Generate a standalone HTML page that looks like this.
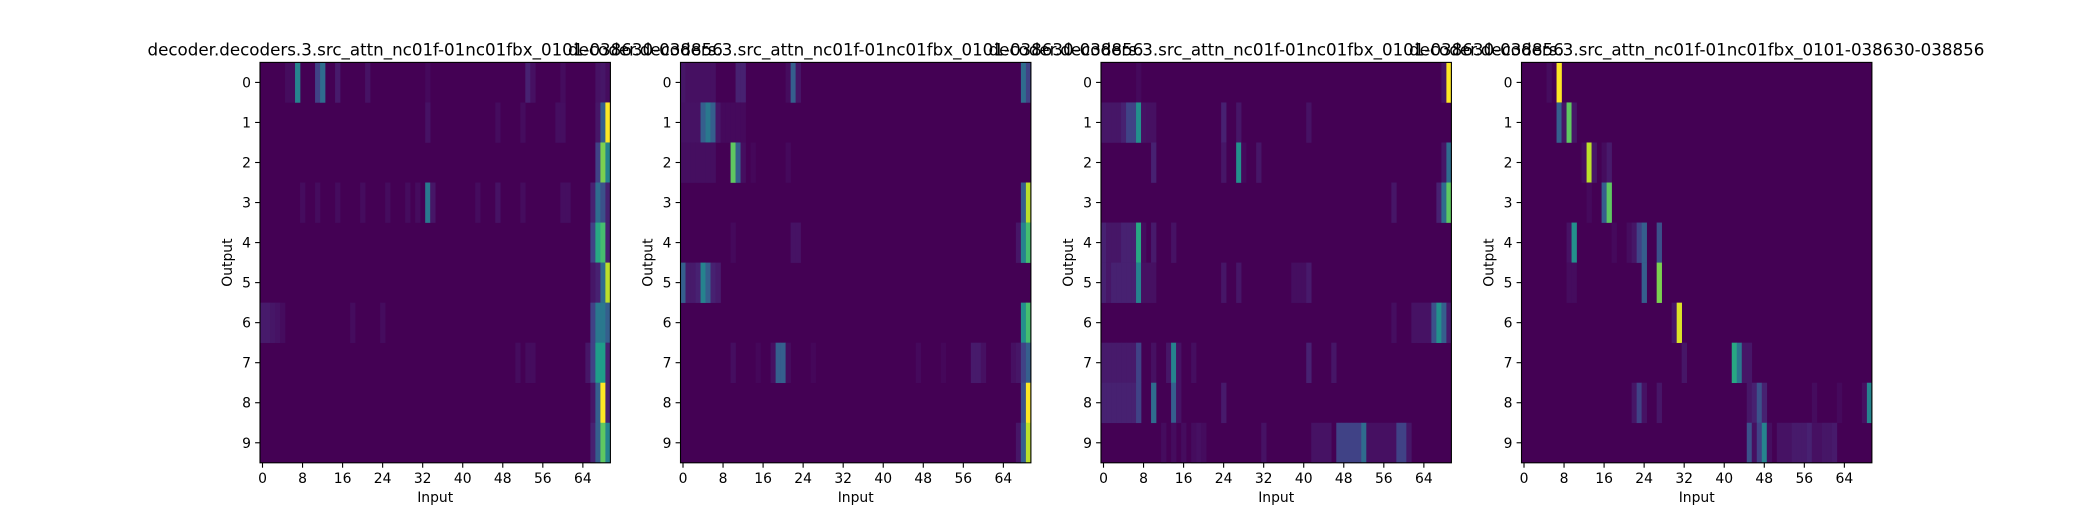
<!DOCTYPE html>
<html><head><meta charset="utf-8"><style>
html,body{margin:0;padding:0;background:#fff;}
svg text{font-family:"DejaVu Sans","Liberation Sans",sans-serif;fill:#000;}
</style></head><body>
<svg id="fig" width="2080" height="520" viewBox="0 0 2080 520" xmlns="http://www.w3.org/2000/svg"></svg>
<script>
// data: for each panel, 10 rows of sparse [column, weight] pairs; background 0
const nCols = 70;
const nRows = 10;
const xTicks = [0,8,16,24,32,40,48,56,64];
const yTicks = [0,1,2,3,4,5,6,7,8,9];
const titles = [
 "decoder.decoders.3.src_attn_nc01f-01nc01fbx_0101-038630-038856",
 "decoder.decoders.3.src_attn_nc01f-01nc01fbx_0101-038630-038856",
 "decoder.decoders.3.src_attn_nc01f-01nc01fbx_0101-038630-038856",
 "decoder.decoders.3.src_attn_nc01f-01nc01fbx_0101-038630-038856"
];
const panel1 = [
 [[5,0.05],[6,0.05],[7,0.45],[11,0.2],[12,0.35],[15,0.12],[21,0.08],[33,0.04],[53,0.15],[54,0.07],[60,0.05],[67,0.08],[68,0.1],[69,0.05]],
 [[33,0.08],[47,0.05],[52,0.05],[59,0.06],[60,0.06],[67,0.1],[68,0.3],[69,1.0]],
 [[67,0.2],[68,0.8],[69,0.45]],
 [[8,0.05],[11,0.05],[15,0.05],[20,0.05],[25,0.05],[29,0.05],[31,0.05],[33,0.4],[34,0.1],[43,0.05],[47,0.08],[52,0.05],[60,0.06],[61,0.06],[66,0.15],[67,0.35],[68,0.25],[69,0.15]],
 [[66,0.2],[67,0.6],[68,0.7],[69,0.15]],
 [[66,0.1],[67,0.15],[68,0.35],[69,0.9]],
 [[0,0.12],[1,0.12],[2,0.1],[3,0.08],[4,0.05],[18,0.05],[24,0.05],[66,0.2],[67,0.4],[68,0.4],[69,0.3]],
 [[51,0.05],[53,0.05],[54,0.05],[65,0.1],[66,0.2],[67,0.55],[68,0.55],[69,0.15]],
 [[66,0.1],[67,0.3],[68,1.0],[69,0.15]],
 [[66,0.15],[67,0.3],[68,0.75],[69,0.45]]
];
const panel2 = [
 [[0,0.1],[1,0.07],[2,0.07],[3,0.07],[4,0.07],[5,0.07],[6,0.07],[11,0.15],[12,0.15],[21,0.05],[22,0.3],[23,0.1],[68,0.35],[69,0.2]],
 [[0,0.08],[1,0.08],[2,0.08],[3,0.08],[4,0.3],[5,0.4],[6,0.3],[7,0.1],[8,0.04],[9,0.04],[10,0.04],[11,0.04],[12,0.04]],
 [[0,0.06],[1,0.06],[2,0.06],[3,0.06],[4,0.06],[5,0.06],[6,0.06],[10,0.75],[11,0.3],[12,0.06],[14,0.03],[21,0.04]],
 [[68,0.3],[69,0.9]],
 [[10,0.04],[22,0.08],[23,0.08],[67,0.1],[68,0.45],[69,0.7]],
 [[0,0.3],[1,0.12],[2,0.12],[3,0.15],[4,0.45],[5,0.3],[6,0.15],[7,0.12]],
 [[68,0.5],[69,0.7]],
 [[10,0.06],[15,0.03],[18,0.07],[19,0.3],[20,0.3],[21,0.05],[26,0.03],[47,0.04],[52,0.03],[58,0.12],[59,0.12],[60,0.07],[66,0.07],[67,0.1],[68,0.2],[69,0.3]],
 [[68,0.25],[69,1.0]],
 [[67,0.1],[68,0.3],[69,0.9]]
];
const panel3 = [
 [[7,0.04],[68,0.08],[69,1.0]],
 [[0,0.1],[1,0.1],[2,0.1],[3,0.1],[4,0.15],[5,0.2],[6,0.2],[7,0.5],[8,0.08],[9,0.07],[10,0.07],[24,0.15],[27,0.1],[41,0.08]],
 [[10,0.15],[24,0.1],[27,0.5],[28,0.04],[31,0.1],[68,0.1],[69,0.35]],
 [[58,0.1],[67,0.15],[68,0.35],[69,0.75]],
 [[0,0.15],[1,0.1],[2,0.1],[3,0.1],[4,0.15],[5,0.15],[6,0.15],[7,0.6],[8,0.05],[10,0.12],[14,0.08]],
 [[0,0.15],[1,0.1],[2,0.15],[3,0.15],[4,0.15],[5,0.15],[6,0.15],[7,0.45],[8,0.07],[9,0.07],[10,0.07],[24,0.1],[27,0.1],[38,0.06],[39,0.06],[40,0.06],[41,0.12]],
 [[58,0.06],[62,0.08],[63,0.08],[64,0.08],[65,0.08],[66,0.25],[67,0.5],[68,0.3],[69,0.12]],
 [[0,0.12],[1,0.12],[2,0.12],[3,0.12],[4,0.12],[5,0.12],[6,0.12],[7,0.2],[10,0.07],[13,0.1],[14,0.45],[15,0.08],[18,0.06],[41,0.15],[46,0.1]],
 [[0,0.15],[1,0.15],[2,0.15],[3,0.15],[4,0.15],[5,0.15],[6,0.15],[7,0.2],[10,0.35],[14,0.3],[15,0.08],[24,0.12]],
 [[12,0.05],[14,0.05],[16,0.05],[18,0.05],[19,0.07],[20,0.05],[32,0.08],[42,0.08],[43,0.08],[44,0.08],[45,0.08],[47,0.2],[48,0.2],[49,0.2],[50,0.2],[51,0.2],[52,0.35],[53,0.07],[54,0.07],[55,0.07],[56,0.07],[57,0.07],[58,0.07],[59,0.2],[60,0.2],[61,0.1]]
];
const panel4 = [
 [[5,0.05],[7,1.0]],
 [[7,0.3],[8,0.1],[9,0.75],[10,0.1]],
 [[12,0.05],[13,0.9],[14,0.1],[16,0.05],[17,0.12]],
 [[13,0.04],[16,0.3],[17,0.75]],
 [[9,0.08],[10,0.5],[18,0.04],[21,0.05],[22,0.1],[23,0.2],[24,0.3],[27,0.25]],
 [[9,0.05],[10,0.05],[24,0.3],[27,0.8]],
 [[30,0.1],[31,0.95]],
 [[32,0.1],[42,0.6],[43,0.4],[44,0.1],[45,0.1]],
 [[22,0.1],[23,0.2],[24,0.08],[27,0.1],[45,0.1],[46,0.15],[47,0.25],[48,0.15],[58,0.05],[63,0.04],[68,0.07],[69,0.45]],
 [[45,0.25],[46,0.07],[47,0.2],[48,0.45],[49,0.06],[51,0.08],[52,0.08],[53,0.08],[54,0.12],[55,0.12],[56,0.12],[57,0.15],[58,0.07],[59,0.07],[60,0.1],[61,0.1],[62,0.12]]
];
const panels = [panel1, panel2, panel3, panel4];

const NS = "http://www.w3.org/2000/svg";
const svg = document.getElementById('fig');
const VIR = [[68,1,84],[72,40,120],[62,73,137],[49,104,142],[38,130,142],[31,158,137],[53,183,121],[109,205,89],[180,222,44],[253,231,37]];
function viridis(t){
  t = Math.max(0, Math.min(1, t));
  if (t < 0.2) t = t*0.6;
  const p = t*(VIR.length-1), i = Math.min(VIR.length-2, Math.floor(p)), f = p-i;
  const c = VIR[i].map((v,k)=>Math.round(v+(VIR[i+1][k]-v)*f));
  return `rgb(${c[0]},${c[1]},${c[2]})`;
}
function mk(tag, attrs){ const e=document.createElementNS(NS,tag); for(const k in attrs) e.setAttribute(k,attrs[k]); return e; }

const PW = 350.4, GAP = 70.1, LEFT0 = 260, TOP = 62.4, PH = 400.4;
panels.forEach((rows, p) => {
  const x0 = LEFT0 + p*(PW+GAP);
  const cw = PW/nCols, rh = PH/nRows;
  const xS = c => x0 + c*cw;
  const yS = r => TOP + r*rh;
  const g = mk('g', {});
  
  
  svg.appendChild(g);
  const bg = mk('rect', {x:x0, y:TOP, width:PW, height:PH, fill:viridis(0)});
  
  
  g.appendChild(bg);
  rows.forEach((cells, r) => {
    cells.forEach(([c, v]) => {
      const cell = mk('rect', {x:xS(c), y:yS(r), width:cw+0.3, height:rh+0.3, fill:viridis(v)});
      
      
      g.appendChild(cell);
    });
  });
  const fr = mk('rect', {x:x0, y:TOP, width:PW, height:PH, fill:'none', stroke:'#000', 'stroke-width':1.1});
  
  
  g.appendChild(fr);
  xTicks.forEach(t => {
    const x = xS(t + 0.5);
    const tk = mk('line', {x1:x, x2:x, y1:TOP+PH, y2:TOP+PH+4.9, stroke:'#000', 'stroke-width':1.1});
    
    
    g.appendChild(tk);
    const tl = mk('text', {x:x, y:TOP+PH+20, 'font-size':13.9, 'text-anchor':'middle'});
    
    
    tl.textContent = t;
    g.appendChild(tl);
  });
  yTicks.forEach(t => {
    const y = yS(t + 0.5);
    const tk = mk('line', {x1:x0-4.9, x2:x0, y1:y, y2:y, stroke:'#000', 'stroke-width':1.1});
    
    
    g.appendChild(tk);
    const tl = mk('text', {x:x0-9, y:y+5, 'font-size':13.9, 'text-anchor':'end'});
    
    
    tl.textContent = t;
    g.appendChild(tl);
  });
  const xl = mk('text', {x:x0+PW/2, y:502, 'font-size':13.9, 'text-anchor':'middle'});
  
  
  xl.textContent = 'Input';
  g.appendChild(xl);
  const yl = mk('text', {x:0, y:0, 'font-size':13.9, 'text-anchor':'middle', transform:`translate(${x0-28},${TOP+PH/2}) rotate(-90)`});
  
  
  yl.textContent = 'Output';
  g.appendChild(yl);
  const tt = mk('text', {x:x0+PW/2, y:TOP-7, 'font-size':16.7, 'text-anchor':'middle'});
  
  
  tt.textContent = titles[p];
  g.appendChild(tt);
});
</script>
</body></html>
